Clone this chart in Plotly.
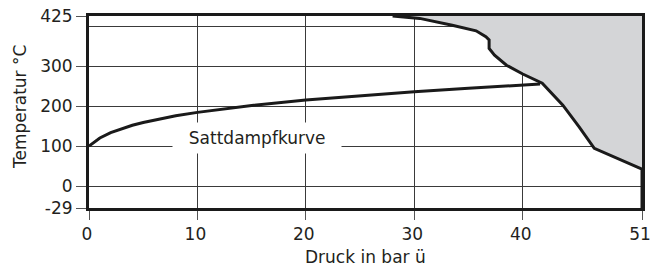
import plotly.graph_objects as go

# ---- data ----
# Saturated steam curve: pressure (bar g) / temperature (°C)
sat_p = [0, 0.5, 1, 2, 3, 4, 5, 6, 8, 10, 12, 15, 20, 25, 30, 35, 40, 41.6]
sat_t = [100, 111, 120, 133.5, 143.6, 151.8, 158.8, 164.9, 175.4, 184.1, 191.6, 201.4, 214.9, 226.0, 235.7, 244.2, 251.8, 255]

# Operating limit curve (pressure / temperature)
lim_p = [28, 30.5, 33.5, 35.7, 36.6, 36.9, 36.9, 37.4, 38.5, 40, 41.8, 42.8, 43.7, 45.2, 46.6, 51, 51]
lim_t = [425, 419, 402, 388, 373, 365, 344, 327, 302, 280, 257, 227, 202, 148, 94, 42, -29]

x_ticks = [0, 10, 20, 30, 40, 51]
y_ticks = [-29, 0, 100, 200, 300, 425]
y_extra_grid = [400]

P_MAX = 51
T_MAX = 425
T_MIN = -29


# The reference draws the section below 0 °C stretched (broken scale).
def y_pos(t):
    return t if t >= 0 else t * 55 / 29


FONT = "DejaVu Sans"
INK = "#1a1a1a"

fig = go.Figure()

# grey forbidden region
fill_x = lim_p[:-1] + [P_MAX]
fill_y = [y_pos(t) for t in lim_t[:-1]] + [y_pos(T_MAX)]
fig.add_trace(go.Scatter(x=fill_x, y=fill_y, mode="lines", fill="toself",
                         fillcolor="#d4d5d7", line=dict(width=0),
                         hoverinfo="skip", showlegend=False))

# saturated steam curve
fig.add_trace(go.Scatter(x=sat_p, y=[y_pos(t) for t in sat_t], mode="lines",
                         line=dict(color=INK, width=3), showlegend=False,
                         cliponaxis=False))

# limit curve
fig.add_trace(go.Scatter(x=lim_p, y=[y_pos(t) for t in lim_t], mode="lines",
                         line=dict(color=INK, width=3), showlegend=False,
                         cliponaxis=False))

fig.update_layout(
    width=651, height=269,
    margin=dict(l=89, r=9, t=16, b=61, autoexpand=False),
    paper_bgcolor="white", plot_bgcolor="white",
    font=dict(family=FONT, size=17, color="#231f20"),
    showlegend=False,
)

fig.update_xaxes(
    range=[0, P_MAX], automargin=False, ticklabeloverflow="allow",
    ticklabelshift=-2,
    tickvals=x_ticks, ticktext=[str(v) for v in x_ticks],
    ticks="outside", ticklen=9, tickwidth=1, tickcolor="#555",
    showgrid=True, gridcolor="#3a3a3a", gridwidth=1,
    showline=True, linecolor=INK, linewidth=3, mirror=True,
    zeroline=False,
)
fig.update_yaxes(
    range=[y_pos(T_MIN), T_MAX], automargin=False, ticklabeloverflow="allow",
    tickvals=[y_pos(v) for v in y_ticks], ticktext=[str(v) for v in y_ticks],
    ticks="outside", ticklen=10, tickwidth=1, tickcolor="#555",
    showgrid=True, gridcolor="#3a3a3a", gridwidth=1,
    minor=dict(tickvals=y_extra_grid, showgrid=True, gridcolor="#3a3a3a",
               gridwidth=1, ticks=""),
    showline=True, linecolor=INK, linewidth=3, mirror=True,
    zeroline=False,
)

fig.add_annotation(x=15.5, y=120, xref="x", yref="y",
                   text="\u00a0\u00a0Sattdampfkurve\u00a0\u00a0",
                   showarrow=False, bgcolor="white", borderpad=5,
                   font=dict(family=FONT, size=17, color="#231f20"))

fig.add_annotation(x=0.5, y=-0.255, xref="paper", yref="paper",
                   text="Druck in bar ü", showarrow=False,
                   xanchor="center", yanchor="middle",
                   font=dict(family=FONT, size=17, color="#231f20"))
fig.add_annotation(x=-0.1248, y=0.526, xref="paper", yref="paper",
                   text="Temperatur °C", showarrow=False, textangle=-90,
                   xanchor="center", yanchor="middle",
                   font=dict(family=FONT, size=17, color="#231f20"))

fig.write_html("out.html",
               config={"displayModeBar": False},
               post_script="document.body.style.margin='0px';"
                           "document.body.style.overflow='hidden';")
